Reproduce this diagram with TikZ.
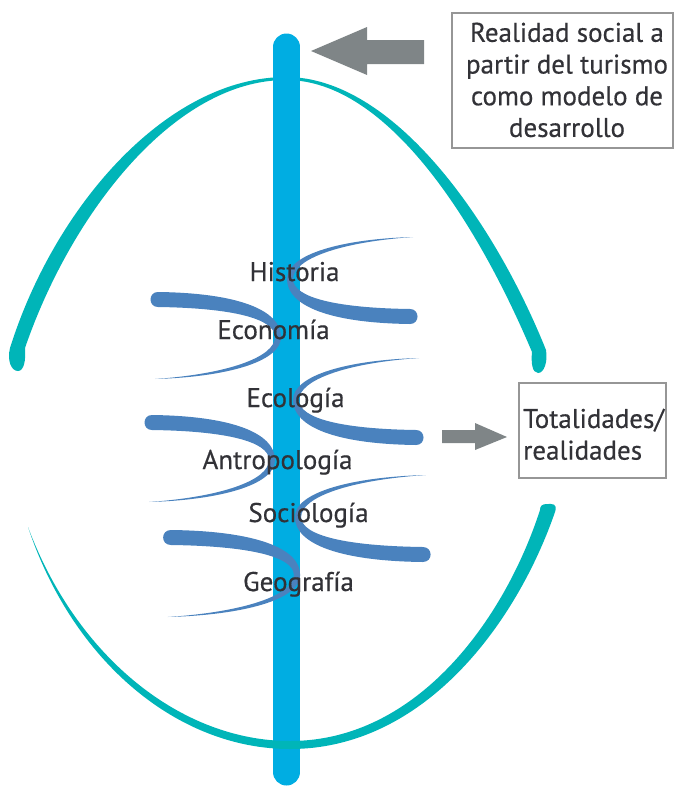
\documentclass[tikz,border=0pt]{standalone}
\usepackage{fontspec}
\setmainfont[FakeBold=0.5]{PT Sans}
\definecolor{teal1}{RGB}{0,181,184}
\definecolor{barblue}{RGB}{0,173,226}
\definecolor{leafblue}{RGB}{74,130,190}
\definecolor{arrgray}{RGB}{127,133,135}
\definecolor{txt}{RGB}{50,50,55}
\definecolor{boxgray}{RGB}{150,150,150}
\newcommand{\leafshape}{%
  \fill[leafblue] (123,-42) .. controls (52,-40) and (-3,-25) .. (-3,0)
    .. controls (-3,27) and (40,44) .. (120,45)
    .. controls (130,45) and (130,30) .. (120,30)
    .. controls (48,29) and (3,19) .. (3,0)
    .. controls (3,-20) and (50,-37) .. cycle;}
\begin{document}
\begin{tikzpicture}[x=1pt,y=-1pt,
  lbl/.style={font=\fontsize{27}{31.7}\selectfont, text=txt, inner sep=0pt},
  boxnode/.style={draw=boxgray, line width=1.2pt, inner sep=0pt}]
\useasboundingbox (0,0) rectangle (676,787);
% top teal arc (under the bar)
\fill[teal1] (10,348) .. controls (55,205) and (168,77) .. (286,77)
  .. controls (392,77) and (493,218) .. (546,350)
  .. controls (548,362) and (544,373) .. (538,373)
  .. controls (532,373) and (531,362) .. (532,352)
  .. controls (478,224) and (388,80) .. (286,80)
  .. controls (174,80) and (71,214) .. (25,348)
  .. controls (26,360) and (24,371) .. (18,371)
  .. controls (11,371) and (7,360) .. cycle;
% vertical bar
\coordinate (bartop) at (286.5,47);
\coordinate (barbot) at (286.5,772);
\draw[barblue, line width=27pt, line cap=round] (bartop) -- (barbot);
% bottom teal arc (over the bar)
\fill[teal1] (28,527) .. controls (73,662) and (178,749) .. (290,749)
  .. controls (425,749) and (517,622) .. (555,512)
  .. controls (558,503) and (552,504) .. (547,504)
  .. controls (542,504) and (540,506) .. (540,510)
  .. controls (505,618) and (418,741) .. (290,741)
  .. controls (182,741) and (77,658) .. cycle;
% leaves
\begin{scope}[shift={(290,279)}]\leafshape\end{scope}
\begin{scope}[shift={(278,337)},rotate=180]\leafshape\end{scope}
\begin{scope}[shift={(296,400)}]\leafshape\end{scope}
\begin{scope}[shift={(272,460)},rotate=180]\leafshape\end{scope}
\begin{scope}[shift={(298,517)},xscale=1.04]\leafshape\end{scope}
\begin{scope}[shift={(297,575)},rotate=180,xscale=1.05]\leafshape\end{scope}
% labels
\node[lbl, anchor=base] (hist) at (294.5,281) {Historia};
\node[lbl, anchor=base] (econ) at (273.5,339) {Economía};
\node[lbl, anchor=base] (ecol) at (295.5,407) {Ecología};
\node[lbl, anchor=base] (antr) at (277.5,469) {Antropología};
\node[lbl, anchor=base] (soci) at (308.5,522) {Sociología};
\node[lbl, anchor=base] (geog) at (298.5,591) {Geografía};
% box 1
\node[boxnode, minimum width=221pt, minimum height=135pt] (b1) at (562.5,80.5) {};
\node[lbl, anchor=north, align=center] (t1) at (567,22.5)
  {Realidad social a\\partir del turismo\\como modelo de\\desarrollo};
% big arrow
\fill[arrgray] (311,51) -- (367,27) -- (367,40) -- (424,40) -- (424,64)
  -- (367,64) -- (367,75) -- cycle;
% box 2
\node[boxnode, minimum width=147pt, minimum height=95pt] (b2) at (592.5,430.5) {};
\node[lbl, anchor=north west, align=left] (t2) at (523,408.5)
  {Totalidades/\\realidades};
% small arrow
\fill[arrgray] (507,437) -- (475,423) -- (475,430) -- (442,430) -- (442,443)
  -- (475,443) -- (475,450) -- cycle;
\end{tikzpicture}
\end{document}
